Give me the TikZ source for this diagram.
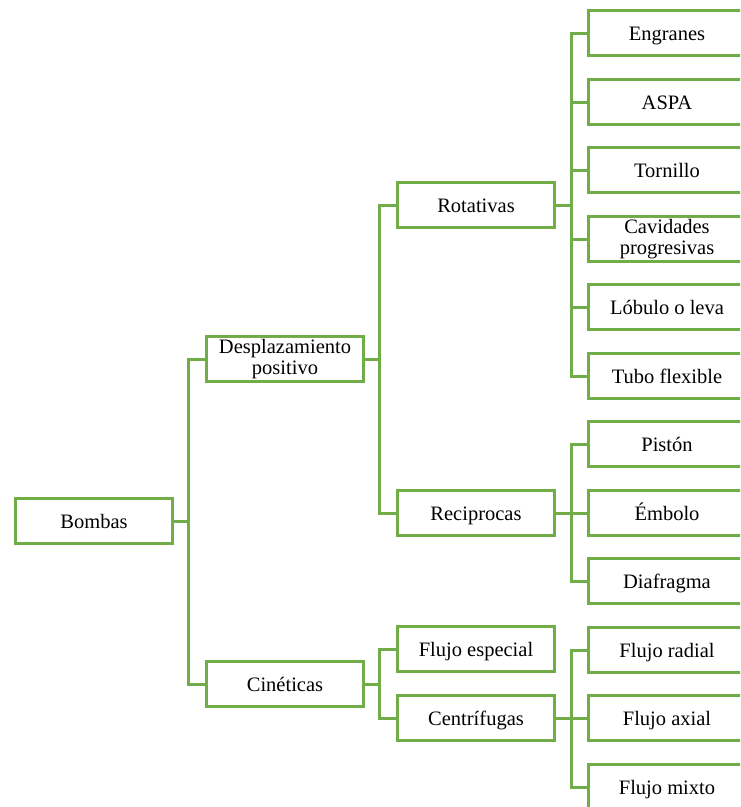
\documentclass[tikz,border=0pt]{standalone}
\usepackage{fontspec}
\setmainfont{Liberation Serif}
\begin{document}
\begin{tikzpicture}[x=1pt,y=-1pt,
  box/.style={draw=grn, line width=2.8pt, fill=white, minimum width=157pt, minimum height=45pt,
    align=center, inner sep=0pt, font=\fontsize{20.5}{21}\selectfont},
  one/.style={box, text height=18.7pt, text depth=4.5pt},
  conn/.style={draw=grn, line width=3pt}]
\definecolor{grn}{HTML}{70AD47}
\useasboundingbox (0,0) rectangle (740,807);
\clip (0,0) rectangle (740,807);
\node[one] (bombas) at (94,521) {Bombas};
\node[box] (desp) at (285,359) {Desplazamiento\\positivo};
\node[one] (cin) at (285,684) {Cinéticas};
\node[one] (rot) at (476,205) {Rotativas};
\node[one] (rec) at (476,513) {Reciprocas};
\node[one] (fe) at (476,649) {Flujo especial};
\node[one] (cen) at (476,718) {Centrífugas};
\node[one] (eng) at (667,33) {Engranes};
\node[one] (aspa) at (667,102) {ASPA};
\node[one] (tor) at (667,170) {Tornillo};
\node[box] (cav) at (667,239) {Cavidades\\progresivas};
\node[one] (lob) at (667,307) {Lóbulo o leva};
\node[one] (tubo) at (667,376) {Tubo flexible};
\node[one] (pis) at (667,444) {Pistón};
\node[one] (emb) at (667,513) {Émbolo};
\node[one] (dia) at (667,581) {Diafragma};
\node[one] (fr) at (667,650) {Flujo radial};
\node[one] (fa) at (667,718) {Flujo axial};
\node[one] (fm) at (667,787) {Flujo mixto};
\foreach \c in {desp,cin} \draw[conn] (bombas.east) -- ++(15,0) |- (\c.west);
\foreach \c in {rot,rec} \draw[conn] (desp.east) -- ++(15,0) |- (\c.west);
\foreach \c in {fe,cen} \draw[conn] (cin.east) -- ++(15,0) |- (\c.west);
\foreach \c in {eng,aspa,tor,cav,lob,tubo} \draw[conn] (rot.east) -- ++(16,0) |- (\c.west);
\foreach \c in {pis,emb,dia} \draw[conn] (rec.east) -- ++(16,0) |- (\c.west);
\foreach \c in {fr,fa,fm} \draw[conn] (cen.east) -- ++(16,0) |- (\c.west);
\end{tikzpicture}
\end{document}
